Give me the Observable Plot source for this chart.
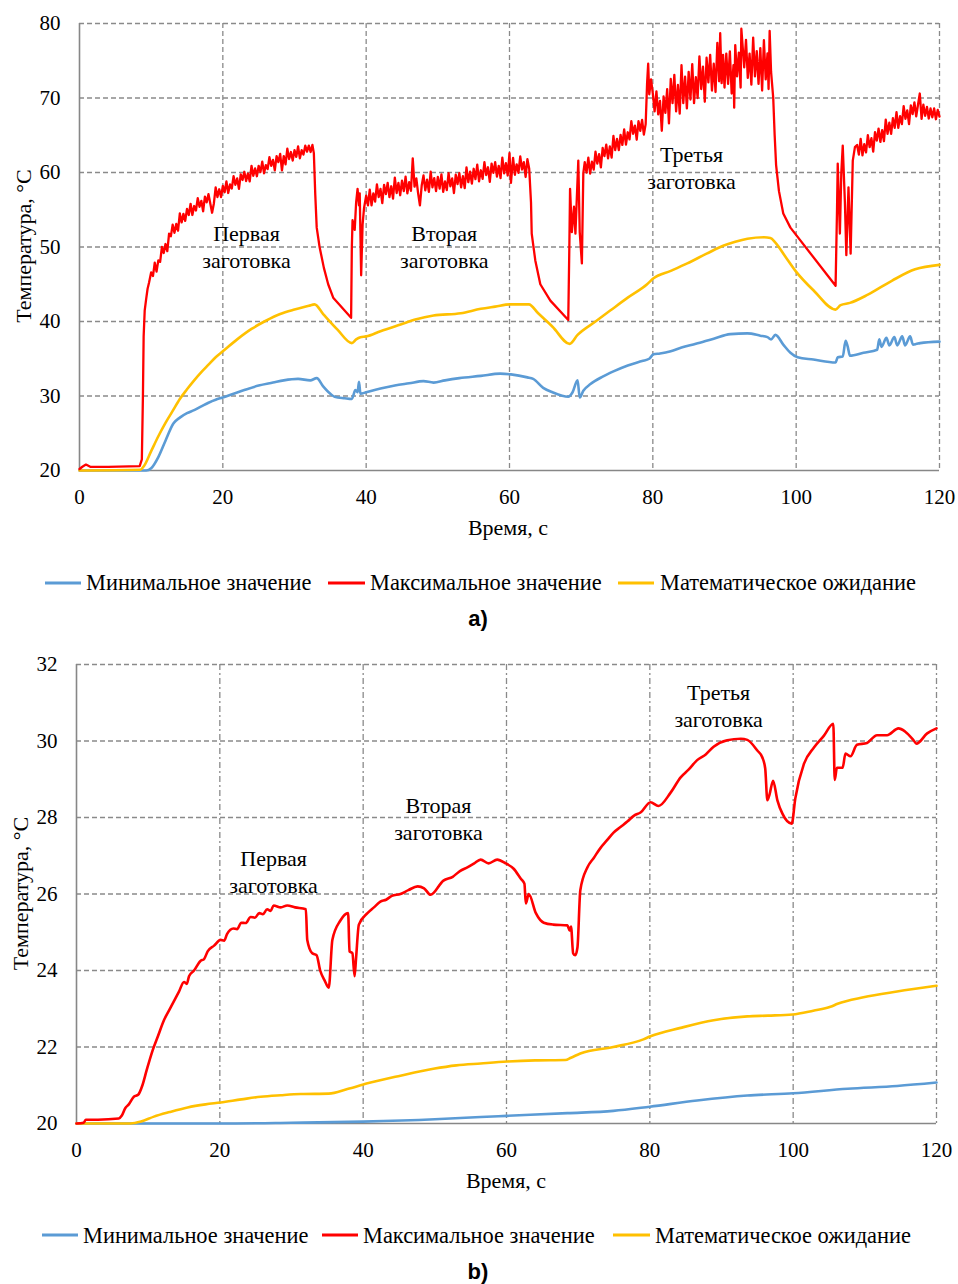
<!DOCTYPE html>
<html><head><meta charset="utf-8">
<script src="https://cdn.jsdelivr.net/npm/d3@7"></script>
<script src="https://cdn.jsdelivr.net/npm/@observablehq/plot@0.6"></script>
<style>
body{margin:0;background:#fff}
#wrap{position:relative;width:958px;height:1284px;overflow:hidden;background:#fff}
#wrap > svg{position:absolute;left:0}
</style></head><body><div id="wrap"></div>
<script>
// ---------- data ----------
const xTicks = [0, 20, 40, 60, 80, 100, 120];
const aYTicks = [20, 30, 40, 50, 60, 70, 80];
const bYTicks = [20, 22, 24, 26, 28, 30, 32];
const seriesNames = ["Минимальное значение", "Максимальное значение", "Математическое ожидание"];
const seriesColors = ["#5B9BD5", "#FF0000", "#FFC000"];
const xLabel = "Время, с";
const yLabel = "Температура, °C";
const captions = ["a)", "b)"];

// chart a: максимальное значение
const aMax = [
[0,20.2],[0.4,20.5],[0.9,20.8],[1.5,20.5],[4,20.5],[8.4,20.6],[8.7,21.5],[8.85,30],[8.95,38],[9.1,41.5],[9.3,43.0],[9.5,44.4],[9.7,45.2],
[10.00,46.6],[10.25,46.1],[10.50,47.9],[10.75,46.7],[11.00,48.2],[11.25,48.0],[11.50,50.0],[11.75,49.2],[12.00,50.4],[12.25,49.45],[12.50,51.8],[12.75,51.45],[13.00,53.0],[13.25,51.9],[13.50,53.1],[13.75,52.2],[14.00,54.5],[14.25,53.3],[14.50,54.45],[14.75,53.5],[15.00,55.1],[15.25,54.3],[15.50,55.8],[15.75,54.3],[16.00,55.5],[16.25,54.9],[16.50,56.55],[16.75,55.4],[17.00,56.2],[17.25,54.8],[17.50,56.75],[17.75,56.0],[18.00,57.1],[18.25,55.85],[18.50,54.6],[18.75,55.85],[19.00,58.0],[19.25,56.7],[19.50,57.75],[19.75,56.7],
[20.00,58.2],[20.25,57.35],[20.50,58.8],[20.75,57.25],[21.00,58.4],[21.25,57.85],[21.50,59.5],[21.75,58.35],[22.00,59.2],[22.25,57.8],[22.50,59.75],[22.75,59.0],[23.00,60.1],[23.25,58.85],[23.50,59.85],[23.75,58.8],[24.00,60.9],[24.25,59.55],[24.50,60.55],[24.75,59.5],[25.00,60.9],[25.25,60.05],[25.50,61.45],[25.75,59.9],[26.00,61.0],[26.25,60.45],[26.50,62.05],[26.75,60.9],[27.00,61.7],[27.25,60.3],[27.50,62.2],[27.75,61.4],[28.00,62.5],[28.25,60.3],[28.50,62.2],[28.75,61.1],[29.00,63.2],[29.25,61.8],[29.50,62.75],[29.75,61.6],[30.00,63.0],[30.25,62.1],[30.50,63.5],[30.75,61.9],[31.00,63.0],[31.25,62.4],[31.50,63.6],[31.75,62.8],[32.00,63.6],[32.25,62.75],[32.50,63.7],
[32.7,62.6],[32.9,57],[33.1,52.6],[33.5,50],[34.1,47.2],[34.7,45],[35.4,43.2],[37.9,40.5],[38.0,50],[38.1,53.6],[38.4,52.3],[38.6,56],[38.8,57.8],[39.0,55.6],[39.1,57.2],[39.3,46.2],[39.5,53],[39.7,55.2],
[40.00,56.9],[40.25,55.6],[40.50,57.7],[40.75,55.6],[41.00,57.2],[41.25,56.1],[41.50,58.4],[41.75,56.7],[42.00,57.8],[42.25,55.9],[42.50,58.35],[42.75,57.1],[43.00,58.6],[43.25,56.7],[43.50,58.15],[43.75,56.5],[44.00,59.3],[44.25,57.25],[44.50,58.6],[44.75,56.95],[45.00,58.9],[45.25,57.5],[45.50,59.45],[45.75,57.2],[46.00,58.7],[46.25,57.55],[46.50,61.9],[46.75,58.1],[47.00,59.2],[47.25,57.2],[47.50,55.6],[47.75,58.25],[48.00,59.6],[48.25,57.6],[48.50,59.05],[48.75,57.4],[49.00,60.1],[49.25,58.0],[49.50,59.25],[49.75,57.5],
[50.00,59.4],[50.25,57.85],[50.50,59.75],[50.75,57.4],[51.00,58.8],[51.25,57.65],[51.50,59.9],[51.75,58.15],[52.00,59.2],[52.25,57.25],[52.50,59.7],[52.75,58.45],[53.00,59.9],[53.25,58.0],[53.50,59.5],[53.75,57.9],[54.00,60.7],[54.25,58.7],[54.50,60.1],[54.75,58.5],[55.00,60.5],[55.25,59.1],[55.50,61.05],[55.75,58.8],[56.00,60.3],[56.25,59.15],[56.50,61.4],[56.75,59.65],[57.00,60.7],[57.25,58.75],[57.50,61.2],[57.75,59.95],[58.00,61.4],[58.25,59.45],[58.50,60.9],[58.75,59.25],[59.00,62.0],[59.25,59.9],[59.50,61.25],[59.75,59.6],[60.00,62.6],[60.20,58.6],[60.50,61.95],[60.75,59.7],[61.00,61.1],[61.25,59.95],[61.50,62.15],[61.75,60.4],[62.00,61.4],[62.25,59.4],[62.50,61.8],[62.75,60.5],
[63.0,56],[63.1,51.8],[63.6,48.2],[64.3,45],[65.7,42.8],[68.2,40.2],[68.35,50],[68.45,57.8],[68.7,52],[69.0,55.4],[69.2,51.8],[69.6,61.6],[69.8,52],[70.1,47.8],[70.3,59.9],
[70.50,61.4],[70.75,60.0],[71.00,62.0],[71.25,59.85],[71.50,61.45],[71.75,60.4],[72.00,62.8],[72.25,61.2],[72.50,62.45],[72.75,60.7],[73.00,63.3],[73.25,62.2],[73.50,63.75],[73.75,61.9],[74.00,63.5],[74.25,62.0],[74.50,64.9],[74.75,63.0],[75.00,64.5],[75.25,63.0],[75.50,65.05],[75.75,63.7],[76.00,65.8],[76.25,63.75],[76.50,65.4],[76.75,64.45],[77.00,66.9],[77.25,65.2],[77.50,66.3],[77.75,64.4],[78.00,66.9],[78.25,65.6],[78.50,67.05],[78.75,65.1],[79.00,66.5],[79.20,72],[79.35,74.6],[79.50,70.5],[79.75,72.5],
[80.00,70.6],[80.25,68.2],[80.50,70.9],[80.75,67.8],[81.00,69.6],[81.25,65.6],[81.50,70.2],[81.75,68.0],[82.00,71.2],[82.25,66.6],[82.50,72.55],[82.75,69.3],[83.00,73.1],[83.25,68.2],[83.50,71.75],[83.75,67.9],[84.00,74.4],[84.25,69.3],[84.50,72.85],[84.75,68.6],[85.00,73.5],[85.25,69.8],[85.50,74.55],[85.75,69.3],[86.00,72.8],[86.25,70.0],[86.50,75.6],[86.75,71.2],[87.00,74.2],[87.25,69.5],[87.50,75.4],[87.75,72.1],[88.00,75.8],[88.25,71.0],[88.50,74.6],[88.75,70.8],[89.00,77.4],[89.25,72.25],[89.40,78.7],[89.60,72.0],[89.80,75.8],
[90.00,71.4],[90.25,75.95],[90.50,71.9],[90.75,76.25],[91.00,70.6],[91.25,74.4],[91.35,68.7],[91.50,77.1],[91.75,72.9],[92.00,76.1],[92.25,71.4],[92.35,79.3],[92.50,77.35],[92.75,74.1],[93.00,77.8],[93.25,72.7],[93.50,75.95],[93.75,71.8],[94.00,78.1],[94.25,72.9],[94.50,76.3],[94.75,71.9],[95.00,76.7],[95.25,71.0],[95.50,77.75],[95.75,72.5],[96.00,76.0],[96.15,71.2],[96.30,79.0],[96.50,73.5],
[96.8,70],[97.0,65],[97.2,61],[97.6,57.5],[98.2,54.5],[99.2,52.6],[105.5,44.8],[105.7,55],[105.8,61.2],[106.1,51.8],[106.3,60],[106.5,63.6],[106.8,56],[107.0,48.9],[107.3,58],[107.6,49.1],[107.9,61.6],[108.2,63.4],
[108.50,63.7],[108.75,62.4],[109.00,64.5],[109.25,62.3],[109.50,63.8],[109.75,62.7],[110.00,65.0],[110.25,63.4],[110.50,64.6],[110.75,62.8],[111.00,65.4],[111.25,64.3],[111.50,65.9],[111.75,64.1],[112.00,65.7],[112.25,64.2],[112.50,67.1],[112.75,65.2],[113.00,66.7],[113.25,65.2],[113.50,67.3],[113.75,66.0],[114.00,68.1],[114.25,66.0],[114.50,67.55],[114.75,66.5],[115.00,68.9],[115.25,67.2],[115.50,68.35],[115.75,66.5],[116.00,69.0],[116.25,67.85],[116.50,69.4],[116.75,67.55],[117.00,69.1],[117.25,70.6],[117.50,67.2],[117.75,69.1],[118.00,67.6],[118.25,68.8],[118.50,67.25],[118.75,68.6],[119.00,67.4],[119.25,68.6],[119.50,67.15],[119.75,68.4],[120.00,67.5]
];
// chart a: минимальное значение
const aMin = [
[0,20.0],[5,20.0],[9.3,20.0],[10,20.3],[11,21.8],[12,24],[13.1,26.3],[14,27.1],[15,27.7],[16,28.1],[17,28.6],[18,29.1],[19,29.5],[20,29.8],[21.5,30.3],[23,30.8],[25,31.4],[27,31.8],[28.5,32.1],[30.5,32.3],[32.2,32.1],[33.1,32.4],[34,31.3],[35,30.3],[35.6,29.9],[37,29.7],[38,29.6],[38.5,30.8],[38.8,30.5],[39.0,31.9],[39.2,30.3],[40,30.5],[42,31.0],[44,31.4],[46,31.7],[48,32.0],[49.4,31.8],[51,32.1],[53,32.4],[56,32.7],[58.7,33.0],[60.2,32.9],[62.5,32.5],[63.3,32.3],[64.7,31.1],[66,30.5],[68.2,29.9],[68.8,30.5],[69.5,32.1],[69.8,29.8],[70.3,30.7],[71.3,31.6],[73,32.6],[74.5,33.3],[76.5,34.1],[78.5,34.7],[79.5,35.0],[80.1,35.6],[81,35.7],[82.5,36.0],[84,36.5],[86,37.0],[88.5,37.7],[90.8,38.3],[93.2,38.4],[95,38.1],[96,37.9],[96.5,37.6],[97.1,38.2],[98.2,36.9],[99.2,35.8],[100.2,35.2],[102.4,34.9],[105.5,34.5],[105.8,35.2],[106.5,35.3],[106.9,37.4],[107.2,36.6],[107.5,35.4],[109.4,35.8],[111.3,36.2],[111.6,37.6],[111.9,36.6],[112.6,37.8],[113,36.8],[113.7,37.9],[114.1,36.8],[114.8,38.0],[115.2,36.8],[115.9,38.0],[116.3,36.9],[116.8,37.0],[117.3,37.1],[120,37.3]
];
// chart a: математическое ожидание
const aMean = [
[0,20.0],[8.5,20.1],[9,20.6],[10,22.6],[11,24.6],[12,26.4],[13,28],[14,29.6],[15,30.9],[16,32.1],[17,33.2],[18,34.2],[19,35.2],[20,36.0],[22,37.6],[24,39],[26,40.1],[28,41],[30,41.6],[32,42.1],[32.8,42.3],[34,41],[36,38.9],[38,37.1],[38.6,37.6],[39.2,37.9],[40,38],[42,38.7],[44.8,39.6],[47,40.3],[49.4,40.8],[53.2,41.1],[56,41.7],[58,42],[60.1,42.3],[62.7,42.3],[64,41.1],[66,39.3],[68.4,37.0],[69.5,38.2],[72,40],[74.1,41.5],[76.5,43.2],[79.2,45.0],[80.1,45.8],[82.5,46.8],[84.8,47.8],[87.5,49.1],[89.9,50.2],[91.5,50.7],[93.2,51.1],[95.5,51.3],[96.4,51.2],[97.1,50.6],[98.5,48.7],[99.9,46.8],[102.5,44.1],[105.5,41.6],[106.2,42.2],[107.5,42.5],[110,43.6],[113.4,45.5],[116.6,47.0],[120,47.6]
];
// chart b
const bMax = [
[0,20.0],[1.0,20.02],[1.3,20.1],[3,20.1],[5.9,20.13],[6.3,20.2],[6.8,20.4],[7.3,20.5],[8,20.7],[8.6,20.75],[9.2,21.0],[9.8,21.4],[10.6,21.9],[11.4,22.3],[12.2,22.7],[12.9,22.95],[13.6,23.2],[14.3,23.45],[15,23.7],[15.4,23.65],[15.7,23.85],[16.4,24.0],[17.3,24.25],[17.8,24.3],[18.3,24.5],[19.2,24.65],[20.1,24.8],[20.6,24.78],[21,24.95],[21.9,25.1],[22.4,25.08],[23,25.25],[23.6,25.24],[24.3,25.4],[24.9,25.38],[25.5,25.5],[26,25.47],[26.6,25.6],[27.1,25.56],[27.5,25.7],[28.5,25.65],[29.4,25.7],[30.5,25.65],[32,25.6],[32.2,24.8],[32.9,24.45],[33.5,24.4],[34,24.0],[34.6,23.75],[35.2,23.55],[35.7,24.8],[36.8,25.3],[37.9,25.5],[38.1,24.5],[38.5,24.45],[38.8,23.85],[39.0,24.3],[39.4,25.2],[40.6,25.5],[41.5,25.65],[42.4,25.8],[43.2,25.85],[44,25.95],[45.2,26.0],[46.3,26.1],[47.6,26.2],[48.5,26.15],[49.4,25.98],[51.2,26.35],[52.5,26.45],[53.5,26.6],[54.6,26.7],[55.5,26.8],[56.4,26.9],[57.5,26.8],[58.7,26.9],[59.9,26.8],[61,26.66],[62,26.4],[62.5,26.27],[62.7,25.75],[63.1,26.0],[64.1,25.5],[65.2,25.25],[66.5,25.2],[68.5,25.18],[68.8,25.05],[69.0,25.15],[69.3,24.45],[69.6,24.4],[69.9,24.6],[70.3,26.1],[71.3,26.7],[72.2,26.95],[73.1,27.2],[74,27.4],[74.9,27.6],[75.9,27.75],[76.9,27.9],[77.8,28.05],[78.7,28.13],[80.1,28.4],[81.2,28.3],[82.9,28.65],[84.3,29.05],[85.4,29.25],[86.6,29.5],[87.8,29.65],[88.9,29.85],[90.8,30.02],[92.7,30.06],[93.6,30.03],[95,29.75],[95.7,29.57],[96.1,29.28],[96.4,28.45],[96.7,28.6],[97.2,28.96],[97.8,28.45],[98.5,28.1],[99.8,27.84],[100.3,28.5],[101.5,29.4],[102.9,29.83],[104.3,30.14],[105.6,30.45],[105.8,28.98],[106.1,29.3],[106.9,29.3],[107.3,29.67],[108,29.6],[108.9,29.9],[110.3,29.95],[111.7,30.15],[113.1,30.15],[114.7,30.33],[115.6,30.25],[116.8,30.02],[117.2,29.93],[118.7,30.2],[120,30.33]
];
const bMin = [
[0,20.0],[20,20.0],[30,20.02],[40,20.05],[50,20.11],[56.4,20.17],[60,20.2],[68.5,20.27],[74.9,20.33],[80,20.44],[86.6,20.6],[93.6,20.73],[100,20.79],[107.6,20.91],[114.5,20.98],[120,21.07]
];
const bMean = [
[0,20.0],[7.5,20.0],[9,20.05],[10.8,20.18],[13,20.3],[15.5,20.42],[18,20.5],[20.1,20.55],[23,20.63],[25.7,20.7],[28.5,20.74],[31.3,20.77],[35.2,20.78],[37.8,20.9],[40.6,21.05],[45.2,21.25],[49.8,21.43],[53,21.52],[56.4,21.57],[60.1,21.62],[64,21.65],[68.2,21.66],[69,21.72],[70.3,21.83],[74.9,22.0],[79.1,22.2],[80.1,22.28],[84.3,22.5],[88.9,22.7],[93.6,22.8],[96.5,22.82],[99.9,22.85],[102.8,22.95],[105.2,23.05],[106.2,23.13],[109.8,23.3],[114.5,23.45],[120,23.6]
];
// annotations: [x, y, text]
const aNotes = [[23.3, 50.1, "Первая\nзаготовка"], [50.9, 50.1, "Вторая\nзаготовка"], [85.4, 60.74, "Третья\nзаготовка"]];
const bNotes = [[27.5, 26.6, "Первая\nзаготовка"], [50.5, 27.99, "Вторая\nзаготовка"], [89.6, 30.94, "Третья\nзаготовка"]];

// ---------- drawing ----------
const SERIF = "'Liberation Serif','Times New Roman',Tinos,'DejaVu Serif',serif";
const GRID = "#8a8a8a";
const px = d => d[0], py = d => d[1];

function makeChart(o) {
  const yMin = o.yTicks[0];
  return Plot.plot({
    width: 958, height: o.height,
    marginLeft: o.ml, marginRight: o.mr, marginTop: o.mt, marginBottom: o.mb,
    style: {fontFamily: SERIF, fontSize: "21px", color: "black", background: "white", overflow: "visible"},
    x: {domain: [0, 120]},
    y: {domain: [yMin, o.yTicks[o.yTicks.length - 1]]},
    marks: [
      Plot.ruleY(o.yTicks.slice(1), {stroke: GRID, strokeWidth: 1.3, strokeDasharray: "5,3"}),
      Plot.ruleX(xTicks.slice(1), {stroke: GRID, strokeWidth: 1.3, strokeDasharray: o.vdash}),
      Plot.ruleX([0], {stroke: "#878787", strokeWidth: 1.6}),
      Plot.ruleY([yMin], {stroke: "#878787", strokeWidth: 1.6}),
      Plot.axisX({ticks: xTicks, tickSize: 0, tickPadding: 19, label: null}),
      Plot.axisY({ticks: o.yTicks, tickSize: 0, tickPadding: 19, label: null}),
      Plot.line(o.min, {x: px, y: py, stroke: seriesColors[0], strokeWidth: 2.6, curve: o.curveMin}),
      Plot.line(o.mean, {x: px, y: py, stroke: seriesColors[2], strokeWidth: 2.6, curve: o.curveMin}),
      Plot.line(o.max, {x: px, y: py, stroke: seriesColors[1], strokeWidth: o.maxWidth, curve: o.curveMax, strokeLinejoin: "round"}),
      Plot.text(o.notes, {x: px, y: py, text: d => d[2], fontSize: 22, fontFamily: SERIF, lineHeight: 1.23, fill: "black"})
    ]
  });
}

const wrap = document.getElementById("wrap");
const chartA = makeChart({height: 545, ml: 79, mr: 19, mt: 23, mb: 75, yTicks: aYTicks, vdash: "5,3",
  min: aMin, mean: aMean, max: aMax, notes: aNotes, curveMin: "monotone-x", curveMax: "linear", maxWidth: 2.3});
chartA.style.top = "0px";
wrap.appendChild(chartA);
const chartB = makeChart({height: 558, ml: 76, mr: 22, mt: 24, mb: 75, yTicks: bYTicks, vdash: "6,3,2,3",
  min: bMin, mean: bMean, max: bMax, notes: bNotes, curveMin: "monotone-x", curveMax: "monotone-x", maxWidth: 2.6});
chartB.style.top = "640px";
wrap.appendChild(chartB);

// overlay: axis titles, legends, captions
const ov = d3.select(wrap).append("svg").attr("width", 958).attr("height", 1284)
  .style("top", "0px").style("pointer-events", "none");
const T = (x, y, s, opt = {}) => ov.append("text").attr("x", x).attr("y", y).text(s)
  .attr("font-family", opt.font || SERIF).attr("font-size", opt.size || 22)
  .attr("font-weight", opt.weight || "normal").attr("text-anchor", opt.anchor || "middle")
  .attr("fill", "black");

// y titles
ov.append("text").attr("transform", "translate(31,246) rotate(-90)").attr("text-anchor", "middle")
  .attr("font-family", SERIF).attr("font-size", 22).text(yLabel);
ov.append("text").attr("transform", "translate(28,893.5) rotate(-90)").attr("text-anchor", "middle")
  .attr("font-family", SERIF).attr("font-size", 22).text(yLabel);
// x titles
T(508, 535, xLabel);
T(506, 1188, xLabel);
// legends
const legA = {y: 583, ty: 590, sw: [[45, 81], [328, 365], [618, 654]], tx: [86, 370, 660]};
const legB = {y: 1235, ty: 1243, sw: [[42, 78], [322, 358], [613, 650]], tx: [83, 363, 655]};
for (const L of [legA, legB]) {
  seriesNames.forEach((n, i) => {
    ov.append("line").attr("x1", L.sw[i][0]).attr("x2", L.sw[i][1]).attr("y1", L.y).attr("y2", L.y)
      .attr("stroke", seriesColors[i]).attr("stroke-width", 3);
    T(L.tx[i], L.ty, n, {anchor: "start", size: 22.4});
  });
}
// captions
T(478, 626, captions[0], {font: "'Liberation Sans',Arial,sans-serif", weight: "bold", size: 22});
T(478, 1279, captions[1], {font: "'Liberation Sans',Arial,sans-serif", weight: "bold", size: 22});
</script></body></html>
